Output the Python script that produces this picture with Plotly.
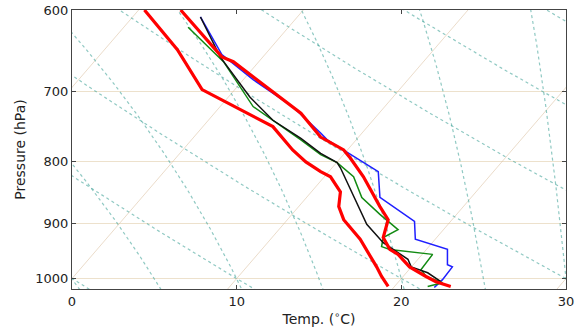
import numpy as np
import plotly.graph_objects as go

# ---------------- data (x = plotted temperature, deg C) -------------
red1_p = [600, 647, 698, 749, 783, 801, 816, 824, 848, 872, 894, 928, 978, 996, 1015]
red1_t = [4.4, 6.4, 7.9, 12.2, 13.4, 14.2, 15.1, 15.7, 16.3, 16.2, 16.5, 17.5, 18.5, 18.8, 19.2]

red2_p = [600, 656, 662, 730, 764, 783, 795, 824, 872, 894, 925, 946, 955, 978, 996, 1006, 1015]
red2_t = [6.6, 9.1, 9.8, 13.9, 15.1, 16.5, 16.9, 17.7, 18.7, 19.2, 18.9, 19.3, 19.8, 20.5, 21.5, 22.1, 23.0]

black_p = [608, 656, 708, 740, 766, 788, 802, 810, 902, 934, 964, 978, 989, 1006]
black_t = [7.8, 9.0, 10.8, 12.2, 13.9, 15.1, 16.1, 16.3, 17.9, 18.9, 20.4, 20.6, 21.6, 22.4]

green_p = [620, 662, 721, 768, 790, 802, 824, 857, 885, 897, 911, 925, 941, 946, 955, 983, 996, 1008, 1015]
green_t = [7.05, 9.2, 11.0, 13.9, 15.1, 16.1, 17.1, 17.6, 18.7, 19.2, 19.8, 18.9, 18.8, 19.3, 21.9, 21.2, 21.5, 22.5, 21.6]

blue_p = [608, 653, 685, 721, 758, 768, 816, 857, 897, 928, 946, 974, 978, 1002, 1011, 1017]
blue_t = [7.8, 9.1, 11.0, 13.4, 15.1, 15.5, 18.6, 18.7, 20.8, 20.85, 22.8, 22.8, 23.1, 22.5, 22.2, 22.0]

x_ticks = [0, 10, 20, 30]
p_ticks = [600, 700, 800, 900, 1000]

# background guide families (deg C)
isotherms = list(range(-60, 50, 10))
dry_theta = list(range(-40, 110, 10))
moist_thw = [0, 5, 10, 15, 20, 25, 30, 35]

# ---------------- diagram geometry ----------------
SKEW = 27.5      # deg C per ln(p) unit
P0 = 1000.0
PBOT, PTOP = 1020.0, 600.0
pp = np.exp(np.linspace(np.log(560), np.log(1060), 200))


def skew_x(t, p):
    return np.asarray(t) + SKEW * np.log(P0 / np.asarray(p))


def moist_profile(thw_c, p_arr):
    Rd, cpd, Lv, eps = 287.04, 1005.7, 2.5e6, 0.622

    def dTdp(p, T):
        tc = T - 273.15
        es = 6.112 * np.exp(17.67 * tc / (tc + 243.5))
        rs = eps * es / (p - es)
        num = Rd * T + Lv * rs
        den = cpd + Lv * Lv * rs * eps / (Rd * T * T)
        return num / den / p

    def integrate(p_end):
        n = 400
        ps = np.linspace(P0, p_end, n)
        T = thw_c + 273.15
        out = [T]
        for i in range(n - 1):
            h = ps[i + 1] - ps[i]
            p = ps[i]
            k1 = dTdp(p, T)
            k2 = dTdp(p + h / 2, T + h * k1 / 2)
            k3 = dTdp(p + h / 2, T + h * k2 / 2)
            k4 = dTdp(p + h, T + h * k3)
            T = T + h * (k1 + 2 * k2 + 2 * k3 + k4) / 6
            out.append(T)
        return ps, np.array(out)

    pu, tu = integrate(p_arr.min())
    pd, td = integrate(p_arr.max())
    ps = np.concatenate([pu[::-1], pd[1:]])
    ts = np.concatenate([tu[::-1], td[1:]])
    return np.interp(p_arr, ps, ts) - 273.15


fig = go.Figure()

guide_tan = "rgba(215,185,150,0.5)"
guide_dot = "rgba(70,165,155,0.6)"

for t0 in isotherms:
    fig.add_trace(go.Scatter(x=skew_x(np.full_like(pp, t0), pp), y=pp, mode="lines",
                             line=dict(color=guide_tan, width=1), hoverinfo="skip", showlegend=False))
for th in dry_theta:
    tk = (th + 273.15) * (pp / 1000.0) ** 0.2857 - 273.15
    fig.add_trace(go.Scatter(x=skew_x(tk, pp), y=pp, mode="lines",
                             line=dict(color=guide_dot, width=1.2, dash="dot"), hoverinfo="skip", showlegend=False))
for thw in moist_thw:
    tm = moist_profile(thw, pp)
    fig.add_trace(go.Scatter(x=skew_x(tm, pp), y=pp, mode="lines",
                             line=dict(color=guide_dot, width=1.2, dash="dot"), hoverinfo="skip", showlegend=False))

series = [
    (blue_t, blue_p, "#1f1fff", 1.5),
    (green_t, green_p, "#128a12", 1.5),
    (black_t, black_p, "#111111", 1.5),
    (red1_t, red1_p, "#ff0000", 3.2),
    (red2_t, red2_p, "#ff0000", 3.2),
]
for t, p, c, w in series:
    fig.add_trace(go.Scatter(x=t, y=p, mode="lines", line=dict(color=c, width=w),
                             showlegend=False))

fig.update_layout(
    width=576, height=332,
    margin=dict(l=72, r=10, t=10, b=43, autoexpand=False),
    paper_bgcolor="white", plot_bgcolor="white",
    font=dict(family="DejaVu Sans", size=13, color="#222"),
)
fig.update_xaxes(range=[0, 30], tickvals=x_ticks, ticks="inside", ticklen=4, tickcolor="#444",
                 showgrid=False, zeroline=False, showline=True, linecolor="#444", linewidth=1,
                 mirror="ticks", automargin=False,
                 title=dict(text="Temp. (<sup>∘</sup>C)", font=dict(size=14), standoff=6))
fig.update_yaxes(type="log", range=[np.log10(PBOT), np.log10(PTOP)], tickvals=p_ticks,
                 ticktext=[str(v) for v in p_ticks], ticks="inside", ticklen=4, tickcolor="#444",
                 showgrid=True, gridcolor="rgba(225,205,170,0.6)", gridwidth=1,
                 zeroline=False, showline=True, linecolor="#444", linewidth=1, mirror="ticks",
                 automargin=False,
                 title=dict(text="Pressure (hPa)", font=dict(size=14), standoff=6))

fig.write_html("out.html", config={"displayModeBar": False},
               post_script="document.body.style.margin='0';")
